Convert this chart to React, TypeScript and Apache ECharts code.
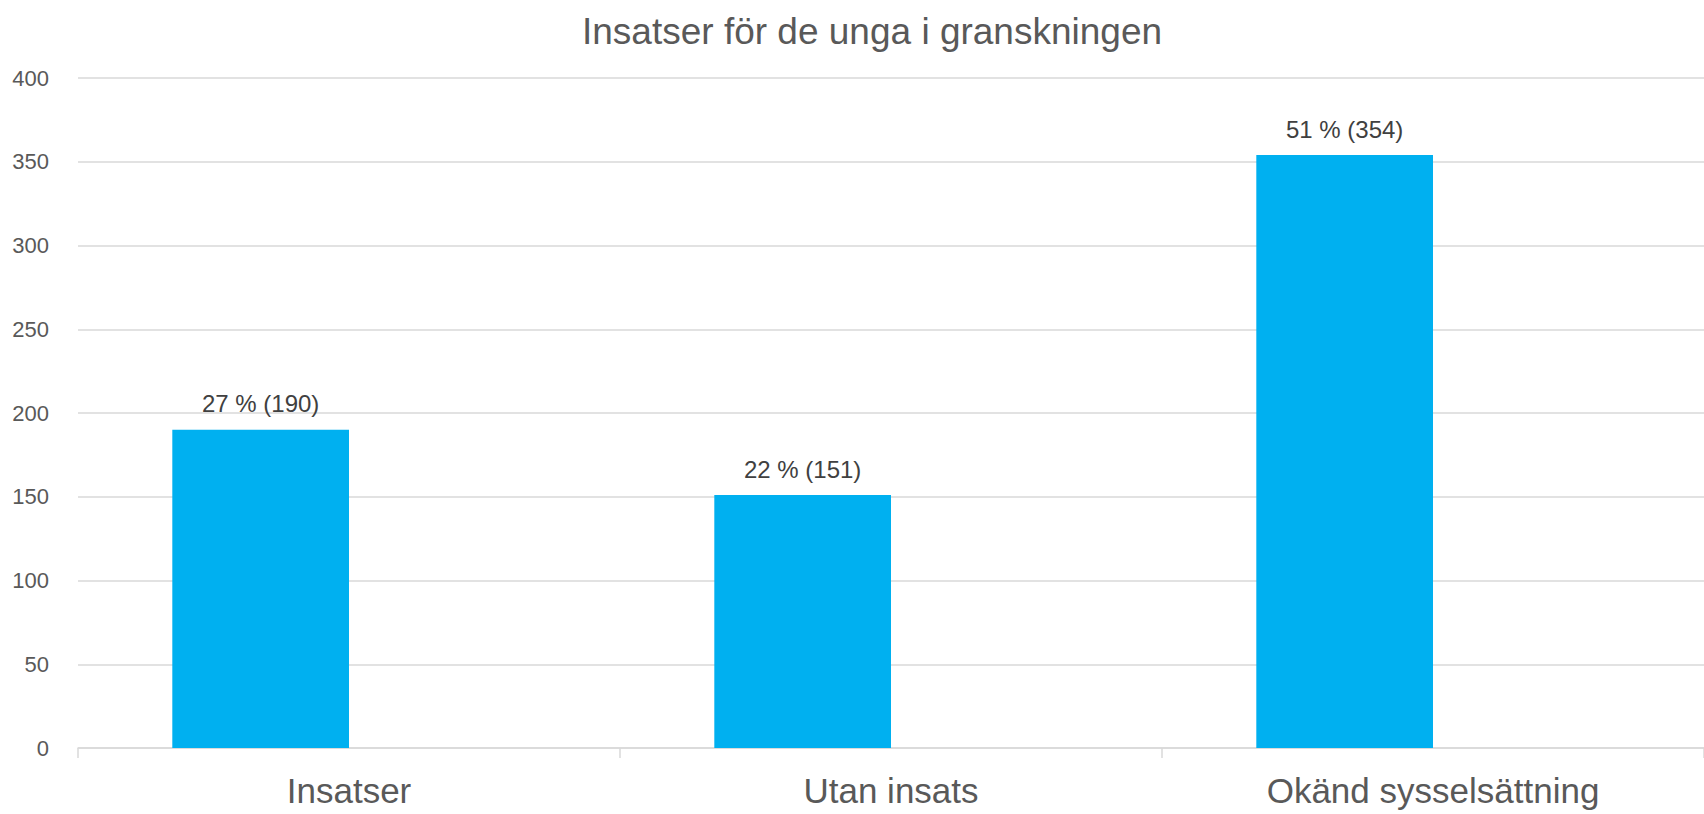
import React, { useEffect, useRef } from "react";
import * as echarts from "echarts";

const titleText = "Insatser för de unga i granskningen";
const categories = ["Insatser", "Utan insats", "Okänd sysselsättning"];
const counts = [190, 151, 354];
const percents = [27, 22, 51];
const emptySeries: (number | null)[] = [null, null, null];

const FONT = "Liberation Sans, Arial, sans-serif";

export default function App() {
  const ref = useRef<HTMLDivElement>(null);
  useEffect(() => {
    const chart = echarts.init(ref.current!, null, { renderer: "svg" });
    chart.setOption({
      animation: false,
      backgroundColor: "#ffffff",
      title: {
        text: titleText,
        left: 577,
        top: 8,
        textStyle: { fontFamily: FONT, fontSize: 37, fontWeight: "normal", color: "#595959" },
      },
      grid: { left: 78, right: 0, top: 78, bottom: 66 },
      xAxis: {
        type: "category",
        data: categories,
        axisLine: { lineStyle: { color: "#d9d9d9", width: 1.5 } },
        axisTick: { show: true, alignWithLabel: false, length: 10, lineStyle: { color: "#d9d9d9", width: 1.5 } },
        axisLabel: { fontFamily: FONT, fontSize: 35, color: "#595959", margin: 25 },
      },
      yAxis: {
        type: "value",
        min: 0,
        max: 400,
        interval: 50,
        axisLine: { show: false },
        axisTick: { show: false },
        splitLine: { lineStyle: { color: "#d9d9d9", width: 1.5 } },
        axisLabel: { fontFamily: FONT, fontSize: 22, color: "#595959", margin: 29 },
      },
      series: [
        {
          type: "bar",
          data: counts,
          barWidth: "32.6%",
          barGap: "0%",
          itemStyle: { color: "#00B0F0" },
          label: {
            show: true,
            position: "top",
            distance: 14,
            fontFamily: FONT,
            fontSize: 24,
            color: "#404040",
            formatter: (p: any) => `${percents[p.dataIndex]} % (${counts[p.dataIndex]})`,
          },
        },
        {
          type: "bar",
          data: emptySeries,
          barWidth: "32.6%",
          barGap: "0%",
          itemStyle: { color: "#ED7D31" },
        },
      ],
    });
    return () => chart.dispose();
  }, []);
  return (
    <div
      ref={ref}
      style={{ position: "fixed", left: 0, top: 0, width: 1704, height: 814 }}
    />
  );
}
